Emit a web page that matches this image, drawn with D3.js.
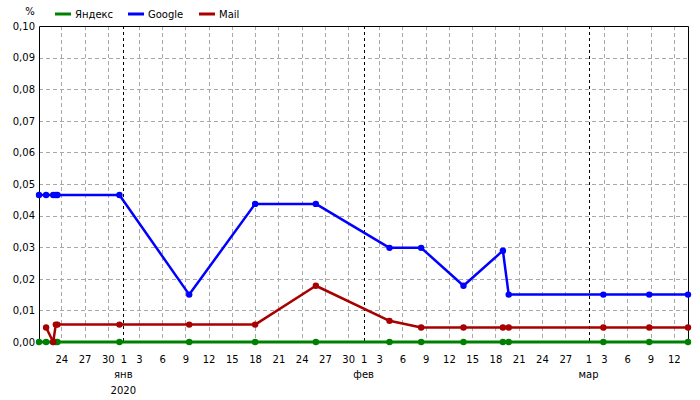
<!DOCTYPE html>
<html>
<head>
<meta charset="utf-8">
<script src="https://cdn.jsdelivr.net/npm/d3@7"></script>
<style>
body { margin: 0; background: #fff; }
text { font-family: "DejaVu Sans", Verdana, sans-serif; font-size: 10px; fill: #000; }
</style>
</head>
<body>
<svg id="chart" width="700" height="400"></svg>
<script>
// ---- data ----
const dates = ["2019-12-21T03:00","2019-12-22T01:00","2019-12-22T23:00","2019-12-23T07:00","2019-12-23T12:00",
  "2019-12-31T12:00","2020-01-09T12:00","2020-01-18T00:00","2020-01-25T20:00","2020-02-04T08:00",
  "2020-02-08T10:00","2020-02-13T21:00","2020-02-18T23:00","2020-02-19T17:00","2020-03-02T22:00",
  "2020-03-08T20:00","2020-03-13T20:00"];
const yandex = [0,0,0,0,0,0,0,0,0,0,0,0,0,0,0,0,0];
const google = [0.0465,0.0465,0.0465,0.0465,0.0465,0.0465,0.015,0.0437,0.0437,0.0298,0.0298,0.0178,0.0289,0.015,0.015,0.015,0.015];
const mail   = [null,0.0046,0,0.0055,0.0055,0.0055,0.0055,0.0055,0.0178,0.0067,0.0046,0.0046,0.0046,0.0046,0.0046,0.0046,0.0046];
const seriesNames = ["Яндекс","Google","Mail"];
const seriesColors = ["#008000","#0000ff","#a80000"];
const tickDates = ["2019-12-24","2019-12-27","2019-12-30","2020-01-01","2020-01-03","2020-01-06","2020-01-09","2020-01-12",
  "2020-01-15","2020-01-18","2020-01-21","2020-01-24","2020-01-27","2020-01-30","2020-02-01","2020-02-03","2020-02-06",
  "2020-02-09","2020-02-12","2020-02-15","2020-02-18","2020-02-21","2020-02-24","2020-02-27","2020-03-01","2020-03-03",
  "2020-03-06","2020-03-09","2020-03-12"];
const monthStarts = ["2020-01-01","2020-02-01","2020-03-01"];
const monthNames = ["янв","фев","мар"];
const yearLabels = ["2020","",""];
const yTicks = [0,0.01,0.02,0.03,0.04,0.05,0.06,0.07,0.08,0.09,0.10];
const yUnit = "%";

// ---- setup ----
const parseT = d3.timeParse("%Y-%m-%dT%H:%M");
const parseD = d3.timeParse("%Y-%m-%d");
const T = dates.map(parseT);
const ticks = tickDates.map(parseD);
const months = monthStarts.map(parseD);
const isMonth = d => months.some(m => +m === +d);

const svg = d3.select("#chart");
const pLeft = 39, pRight = 688, pTop = 26, pBottom = 342;
const x = d3.scaleTime().domain(d3.extent(T)).range([pLeft, pRight]);
const y = d3.scaleLinear().domain([0, 0.10]).range([pBottom, pTop]);
const loc = d3.formatLocale({decimal: ",", thousands: " ", grouping: [3], currency: ["", ""]});
const fmt = loc.format(".2f");

svg.append("rect").attr("width", 700).attr("height", 400).attr("fill", "#fff");

// horizontal grid
svg.append("g").selectAll("line").data(yTicks.filter(v => v > 0 && v < 0.1)).join("line")
  .attr("x1", pLeft).attr("x2", pRight).attr("y1", d => Math.round(y(d)) + 0.5).attr("y2", d => Math.round(y(d)) + 0.5)
  .attr("stroke", "#a8a8a8").attr("stroke-dasharray", "4,3");

// vertical grid
svg.append("g").selectAll("line").data(ticks).join("line")
  .attr("x1", d => Math.round(x(d)) + 0.5).attr("x2", d => Math.round(x(d)) + 0.5)
  .attr("y1", pTop).attr("y2", pBottom)
  .attr("stroke", d => isMonth(d) ? "#000" : "#a8a8a8")
  .attr("stroke-dasharray", d => isMonth(d) ? "3,3" : "4,3");

// frame
svg.append("path")
  .attr("d", `M${pLeft + 0.5},${pBottom}V${pTop + 0.5}H${pRight + 0.5}V${pBottom}`)
  .attr("fill", "none").attr("stroke", "#000");
svg.append("line").attr("x1", pLeft).attr("x2", pRight).attr("y1", pBottom + 0.5).attr("y2", pBottom + 0.5).attr("stroke", "#000");

// y labels
const yAxis = d3.axisLeft(y).tickValues(yTicks).tickFormat(fmt).tickSize(0).tickPadding(4);
const ya = svg.append("g").attr("transform", `translate(${pLeft},0)`).call(yAxis);
ya.select(".domain").remove();
ya.selectAll("text").style("font-family", '"DejaVu Sans", Verdana, sans-serif').style("font-size", "10px").attr("fill", "#000");
svg.append("text").attr("x", 30).attr("y", 15).attr("text-anchor", "middle").text(yUnit);

// x labels
const xAxis = d3.axisBottom(x).tickValues(ticks).tickFormat(d3.timeFormat("%-d")).tickSize(0).tickPadding(14);
const xa = svg.append("g").attr("transform", `translate(0,${pBottom})`).call(xAxis);
xa.select(".domain").remove();
xa.selectAll("text").style("font-family", '"DejaVu Sans", Verdana, sans-serif').style("font-size", "10px").attr("fill", "#000");

svg.append("g").selectAll("text").data(months).join("text")
  .attr("x", d => x(d)).attr("y", 378).attr("text-anchor", "middle").text((d, i) => monthNames[i]);
svg.append("g").selectAll("text").data(months).join("text")
  .attr("x", d => x(d)).attr("y", 394).attr("text-anchor", "middle").text((d, i) => yearLabels[i]);

// series
const all = [yandex, google, mail];
const widths = [3, 2.5, 2.5];
all.forEach((vals, si) => {
  const pts = T.map((t, i) => ({t, v: vals[i]})).filter(p => p.v !== null);
  const line = d3.line().x(p => x(p.t)).y(p => y(p.v));
  svg.append("path").datum(pts).attr("d", line)
    .attr("fill", "none").attr("stroke", seriesColors[si]).attr("stroke-width", widths[si]).attr("stroke-linejoin", "round");
  svg.append("g").selectAll("circle").data(pts).join("circle")
    .attr("cx", p => x(p.t)).attr("cy", p => y(p.v)).attr("r", 3.2).attr("fill", seriesColors[si]);
});

// legend
const legX = [55, 128, 199];
seriesNames.forEach((n, i) => {
  svg.append("line").attr("x1", legX[i]).attr("x2", legX[i] + 16).attr("y1", 14).attr("y2", 14)
    .attr("stroke", seriesColors[i]).attr("stroke-width", 3);
  svg.append("text").attr("x", legX[i] + 20).attr("y", 18).text(n);
});
</script>
</body>
</html>
